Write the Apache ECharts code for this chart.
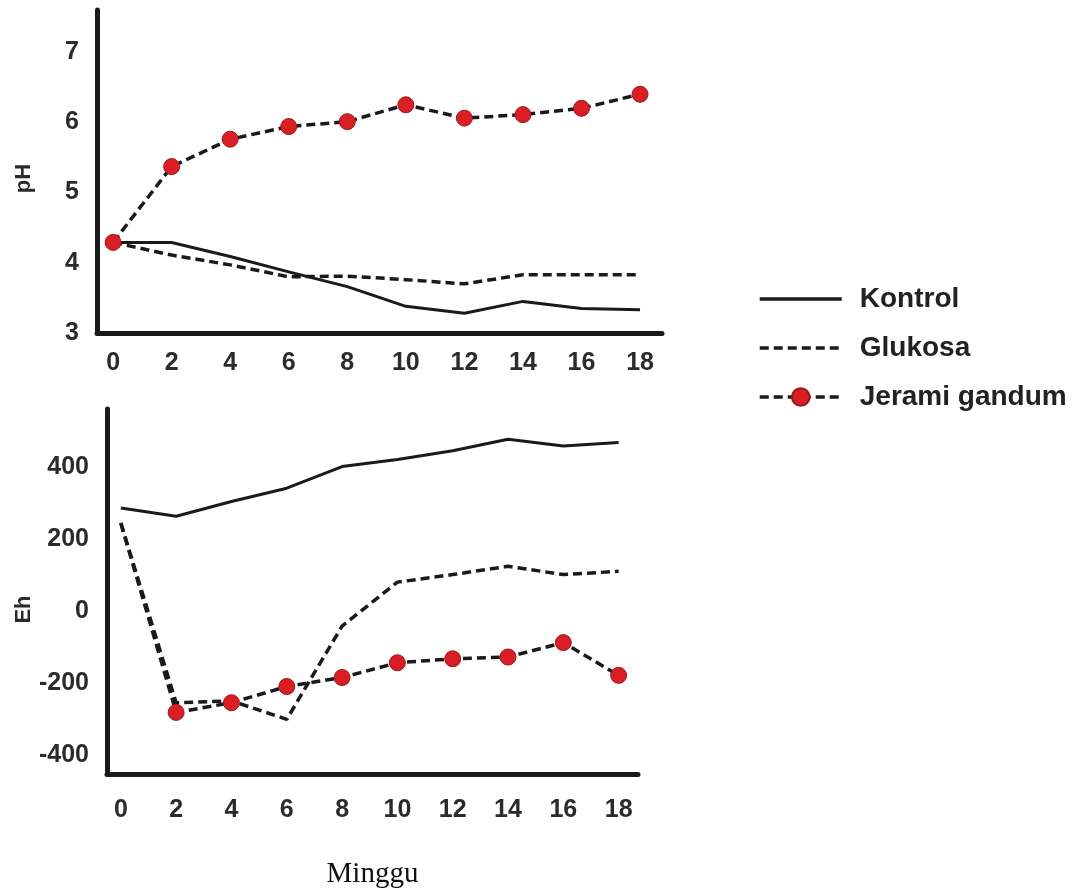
<!DOCTYPE html>
<html>
<head>
<meta charset="utf-8" />
<title>pH dan Eh</title>
<script src="https://cdn.jsdelivr.net/npm/echarts@6/dist/echarts.min.js"></script>
<style>
	html, body { margin: 0; padding: 0; background: #fff; }
	#chart { width: 1086px; height: 890px; }
</style>
</head>
<body>
<div id="chart"></div>
<script>
// minggu ke-
var weeks = [0, 2, 4, 6, 8, 10, 12, 14, 16, 18];
var weekTicks = [0, 2, 4, 6, 8, 10, 12, 14, 16, 18];
var phTicks = [3, 4, 5, 6, 7];
var ehTicks = [-400, -200, 0, 200, 400];
var seriesNames = ['Kontrol', 'Glukosa', 'Jerami gandum'];

// pH
var phKontrol = [4.29, 4.29, 4.09, 3.87, 3.66, 3.38, 3.28, 3.45, 3.35, 3.33];
var phGlukosa = [4.29, 4.11, 3.97, 3.80, 3.81, 3.76, 3.70, 3.83, 3.83, 3.83];
var phJerami = [4.29, 5.37, 5.76, 5.94, 6.01, 6.25, 6.06, 6.11, 6.20, 6.40];

// Eh
var ehKontrol = [286, 263, 304, 341, 401, 421, 445, 477, 458, 468];
var ehGlukosa = [244, -255, -250, -301, -42, 80, 101, 124, 101, 110];
var ehJerami = [244, -282, -255, -210, -185, -144, -133, -128, -88, -179];

var ink = '#1a1a1a';
var font = "'Liberation Sans', Arial, sans-serif";

function pairs(vals) {
	return weeks.map(function (w, i) { return [w, vals[i]]; });
}

function xAxisOpt(idx, min, max, margin, extra) {
	var o = {
		type: 'value', gridIndex: idx, min: min, max: max,
		axisLine: { show: true, onZero: false, lineStyle: { color: ink, width: 5 } },
		axisTick: { show: false },
		splitLine: { show: false },
		axisLabel: {
			customValues: weekTicks, margin: margin,
			color: '#2b2b2b', fontFamily: font, fontWeight: 'bold', fontSize: 25
		}
	};
	return Object.assign(o, extra || {});
}

function yAxisOpt(idx, min, max, ticks, name, gap, pad) {
	return {
		type: 'value', gridIndex: idx, min: min, max: max,
		name: name, nameLocation: 'middle', nameGap: gap,
		nameTextStyle: { color: '#2b2b2b', fontFamily: font, fontWeight: 'bold', fontSize: 22, padding: pad },
		axisLine: { show: true, onZero: false, lineStyle: { color: ink, width: 5 } },
		axisTick: { show: false },
		splitLine: { show: false },
		axisLabel: {
			customValues: ticks, margin: 18,
			color: '#2b2b2b', fontFamily: font, fontWeight: 'bold', fontSize: 25
		}
	};
}

function kontrol(idx, vals) {
	return {
		name: 'Kontrol', type: 'line', xAxisIndex: idx, yAxisIndex: idx,
		data: pairs(vals), symbol: 'none', z: 3,
		itemStyle: { color: ink },
		lineStyle: { color: ink, width: 3 }
	};
}

function glukosa(idx, vals) {
	return {
		name: 'Glukosa', type: 'line', xAxisIndex: idx, yAxisIndex: idx,
		data: pairs(vals), symbol: 'none', z: 4,
		itemStyle: { color: ink },
		lineStyle: { color: ink, width: 3.5, type: [9, 5] }
	};
}

function jerami(idx, vals, firstDot) {
	var d = pairs(vals);
	if (!firstDot) {
		d[0] = { value: d[0], symbol: 'none' };
	}
	return {
		name: 'Jerami gandum', type: 'line', xAxisIndex: idx, yAxisIndex: idx,
		data: d, symbol: 'circle', symbolSize: 16, showSymbol: true, z: 5,
		itemStyle: { color: '#d91e25', borderColor: '#9a1a1a', borderWidth: 1 },
		lineStyle: { color: ink, width: 3.5, type: [9, 5] }
	};
}

var chart = echarts.init(document.getElementById('chart'));
chart.setOption({
	backgroundColor: '#fff',
	animation: false,
	legend: {
		data: [
			{ name: seriesNames[0], itemStyle: { opacity: 0 } },
			{ name: seriesNames[1], itemStyle: { opacity: 0 } },
			{ name: seriesNames[2] }
		],
		orient: 'vertical',
		left: 758, top: 284, padding: 0,
		itemWidth: 82, itemHeight: 22, itemGap: 19,
		lineStyle: { width: 3.5 },
		textStyle: { color: '#222', fontFamily: font, fontWeight: 'bold', fontSize: 28, lineHeight: 30, padding: [0, 0, 0, 13] }
	},
	grid: [
		{ left: 97, top: 10, width: 565, height: 323 },
		{ left: 107, top: 409, width: 531, height: 366 }
	],
	xAxis: [
		xAxisOpt(0, -0.55, 18.75, 18),
		xAxisOpt(1, -0.5, 18.7, 24, {
			name: 'Minggu', nameLocation: 'middle', nameGap: 86,
			nameTextStyle: { color: '#111', fontFamily: "'Liberation Serif', 'Times New Roman', serif", fontSize: 29 }
		})
	],
	yAxis: [
		yAxisOpt(0, 3, 7.6, phTicks, 'pH', 62, [0, 14, 0, 0]),
		yAxisOpt(1, -453, 561, ehTicks, 'Eh', 72, [0, 36, 0, 0])
	],
	series: [
		kontrol(0, phKontrol),
		glukosa(0, phGlukosa),
		jerami(0, phJerami, true),
		kontrol(1, ehKontrol),
		glukosa(1, ehGlukosa),
		jerami(1, ehJerami, false)
	]
});
</script>
</body>
</html>
